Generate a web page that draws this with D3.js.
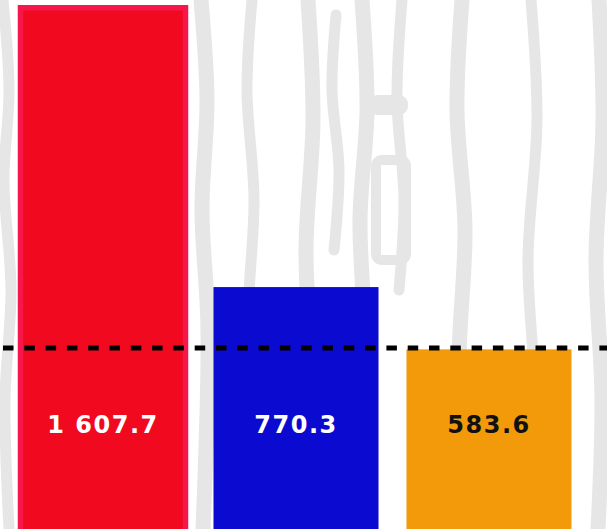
<!DOCTYPE html>
<html>
<head>
<meta charset="utf-8">
<script src="https://cdn.jsdelivr.net/npm/d3@7"></script>
<style>
  body { margin: 0; background: #fff; }
  svg { display: block; }
</style>
</head>
<body>
<div id="chart"></div>
<script>
// Data
let categories = ['A', 'B', 'C'];
let values = [1607.7, 770.3, 583.6];
let value_labels = ['1 607.7', '770.3', '583.6'];
let bar_colors = ['#f1091f', '#0a0ad0', '#f39a0b'];
let label_colors = ['#ffffff', '#ffffff', '#111111'];
let reference_value = 588;

let width = 607;
let height = 529;

let svg = d3.select('#chart')
    .append('svg')
    .attr('width', width)
    .attr('height', height);

// Background texture (light grey brush strokes)
let strokes = [
    [[3, 0], [9, 90], [4, 180], [11, 290], [5, 400], [9, 529]],
    [[201, 0], [207, 100], [202, 210], [208, 330], [203, 529]],
    [[252, 0], [247, 90], [254, 200], [248, 320], [253, 460]],
    [[308, 0], [313, 120], [306, 250], [312, 390], [308, 529]],
    [[336, 15], [332, 90], [339, 170], [334, 250]],
    [[362, 0], [367, 110], [360, 220], [366, 360], [362, 529]],
    [[402, 0], [397, 100], [404, 200], [399, 290]],
    [[462, 0], [457, 110], [465, 230], [459, 360], [463, 529]],
    [[531, 0], [537, 120], [528, 260], [535, 400], [530, 529]],
    [[599, 0], [603, 120], [596, 260], [602, 400], [598, 529]]
];
let bg = svg.append('g').attr('class', 'texture');
bg.selectAll('path')
    .data(strokes)
    .enter()
    .append('path')
    .attr('d', d3.line().curve(d3.curveCatmullRom))
    .attr('fill', 'none')
    .attr('stroke', '#e6e6e6')
    .attr('stroke-width', (d, i) => i % 2 ? 15 : 11)
    .attr('stroke-linecap', 'round');
bg.append('rect').attr('x', 368).attr('y', 95).attr('width', 40).attr('height', 20).attr('rx', 9).attr('fill', '#e6e6e6');
bg.append('rect').attr('x', 376).attr('y', 160).attr('width', 30).attr('height', 100).attr('rx', 6).attr('fill', 'none').attr('stroke', '#e6e6e6').attr('stroke-width', 10);

// Scales
let x_scale = d3.scaleBand()
    .domain(categories)
    .range([20.5, 571.5])
    .paddingInner(0.145)
    .paddingOuter(0);

let y_scale = d3.scaleLinear()
    .domain([45, 1610])
    .range([height, 7]);

// Bars
svg.append('g').selectAll('rect')
    .data(values)
    .enter()
    .append('rect')
    .attr('x', (d, i) => x_scale(categories[i]))
    .attr('y', d => y_scale(d))
    .attr('width', x_scale.bandwidth())
    .attr('height', d => height - y_scale(d) + 6)
    .attr('fill', (d, i) => bar_colors[i])
    .attr('stroke', (d, i) => i === 0 ? '#f5174b' : 'none')
    .attr('stroke-width', 5.5);

// Reference line
svg.append('line')
    .attr('x1', 3)
    .attr('x2', width)
    .attr('y1', y_scale(reference_value))
    .attr('y2', y_scale(reference_value))
    .attr('stroke', '#000')
    .attr('stroke-width', 5)
    .attr('stroke-dasharray', '10.5 10.8');

// Value labels
svg.append('g').selectAll('text')
    .data(values)
    .enter()
    .append('text')
    .text((d, i) => value_labels[i])
    .attr('x', (d, i) => x_scale(categories[i]) + x_scale.bandwidth() / 2)
    .attr('y', 433)
    .attr('text-anchor', 'middle')
    .attr('fill', (d, i) => label_colors[i])
    .style('font-family', 'DejaVu Sans, sans-serif')
    .style('font-weight', 'bold')
    .style('font-size', '24px')
    .style('letter-spacing', '1.5px');
</script>
</body>
</html>
